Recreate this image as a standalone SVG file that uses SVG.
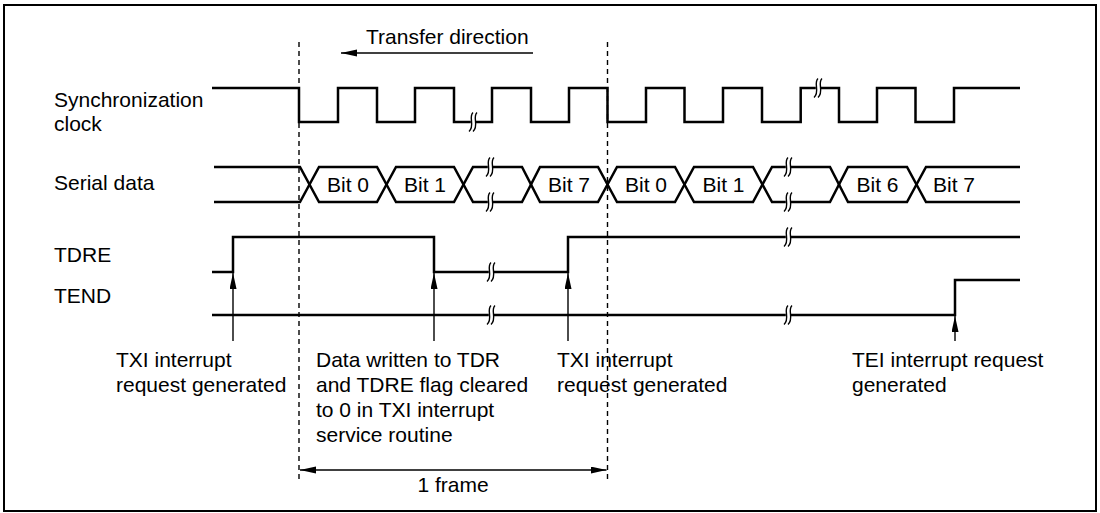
<svg xmlns="http://www.w3.org/2000/svg" xmlns:xlink="http://www.w3.org/1999/xlink" width="1100" height="513" viewBox="0 0 1100 513">
<style>
text{font-family:"Liberation Sans",Arial,Helvetica,sans-serif;font-size:21px;fill:#000}
.sig{fill:none;stroke:#000;stroke-width:2.5;stroke-linejoin:miter;stroke-linecap:butt}
.thin{fill:none;stroke:#000;stroke-width:1.4}
.dash{fill:none;stroke:#000;stroke-width:1.4;stroke-dasharray:5 4}
.mid{text-anchor:middle}
</style>
<defs>
<marker id="ah" markerUnits="userSpaceOnUse" markerWidth="16" markerHeight="8" refX="16" refY="3.5" orient="auto-start-reverse">
<path d="M0,0 L16,3.5 L0,7 z" fill="#000"/>
</marker>
<g id="brk">
<rect x="-2.2" y="-3.5" width="4.4" height="7" fill="#fff"/>
<path d="M0,-9.5 C-5,-5 2.5,4 -4,9.5 M4,-9.5 C-1,-5 6.5,4 0,9.5" fill="none" stroke="#000" stroke-width="1.4"/>
</g>
</defs>
<rect x="4" y="5" width="1092" height="506" fill="#fff" stroke="#000" stroke-width="2"/>

<g id="frame-markers">
<line class="dash" x1="299" y1="42" x2="299" y2="483"/>
<line class="dash" x1="607.5" y1="42" x2="607.5" y2="483"/>
</g>

<g id="transfer-direction">
<text x="366" y="44">Transfer direction</text>
</g>

<g id="sync-clock">
<text x="54" y="107">Synchronization</text>
<text x="54" y="131">clock</text>
<path class="sig" d="M212,88 H299 V122 H338 V88 H377 V122 H415 V88 H454 V122 H492 V88 H531 V122 H569 V88 H607.5 V122 H646 V88 H684.5 V122 H723 V88 H762 V122 H800.7 V88 H839 V122 H877 V88 H915.5 V122 H954 V88 H1020"/>
<use xlink:href="#brk" x="473" y="122"/>
<use xlink:href="#brk" x="818" y="88"/>
</g>

<g id="serial-data">
<text x="54" y="190">Serial data</text>
<path class="sig" d="M214,167 H300 L319,202 H377 L396,167 H454 L473,202 H522 L540,167 H598 L617,202 H675 L694,167 H753 L772,202 H830 L848,167 H907 L926,202 H1020"/>
<path class="sig" d="M214,202 H300 L319,167 H377 L396,202 H454 L473,167 H522 L540,202 H598 L617,167 H675 L694,202 H753 L772,167 H830 L848,202 H907 L926,167 H1020"/>
<use xlink:href="#brk" x="490" y="167"/>
<use xlink:href="#brk" x="490" y="202"/>
<use xlink:href="#brk" x="788" y="167"/>
<use xlink:href="#brk" x="788" y="202"/>
<text class="mid" x="348" y="192">Bit 0</text>
<text class="mid" x="425" y="192">Bit 1</text>
<text class="mid" x="569" y="192">Bit 7</text>
<text class="mid" x="646" y="192">Bit 0</text>
<text class="mid" x="723.5" y="192">Bit 1</text>
<text class="mid" x="877.5" y="192">Bit 6</text>
<text x="933" y="192">Bit 7</text>
</g>

<g id="tdre">
<text x="54" y="262">TDRE</text>
<path class="sig" d="M212,272 H233 V237 H434 V272 H568 V237 H1020"/>
<use xlink:href="#brk" x="491" y="272"/>
<use xlink:href="#brk" x="788" y="237"/>
</g>

<g id="tend">
<text x="54" y="303">TEND</text>
<path class="sig" d="M212,315 H955 V280 H1020"/>
<use xlink:href="#brk" x="491" y="315"/>
<use xlink:href="#brk" x="788" y="315"/>
</g>

<g id="connectors">
<line class="thin" x1="233" y1="341" x2="233" y2="273" marker-end="url(#ah)"/>
<line class="thin" x1="434" y1="341" x2="434" y2="273" marker-end="url(#ah)"/>
<line class="thin" x1="568" y1="341" x2="568" y2="273" marker-end="url(#ah)"/>
<line class="thin" x1="955" y1="341" x2="955" y2="316" marker-end="url(#ah)"/>
<line class="thin" x1="533" y1="53" x2="341" y2="53" marker-end="url(#ah)"/>
<line class="thin" x1="300" y1="470" x2="606.5" y2="470" marker-start="url(#ah)" marker-end="url(#ah)"/>
</g>

<g id="label-txi-1">
<text x="116" y="367">TXI interrupt</text>
<text x="116" y="392">request generated</text>
</g>
<g id="label-data-written">
<text x="316" y="367">Data written to TDR</text>
<text x="316" y="392">and TDRE flag cleared</text>
<text x="316" y="417">to 0 in TXI interrupt</text>
<text x="316" y="442">service routine</text>
</g>
<g id="label-txi-2">
<text x="557" y="367">TXI interrupt</text>
<text x="557" y="392">request generated</text>
</g>
<g id="label-tei">
<text x="852" y="367">TEI interrupt request</text>
<text x="852" y="392">generated</text>
</g>
<g id="label-frame">
<text class="mid" x="453" y="492">1 frame</text>
</g>
</svg>
